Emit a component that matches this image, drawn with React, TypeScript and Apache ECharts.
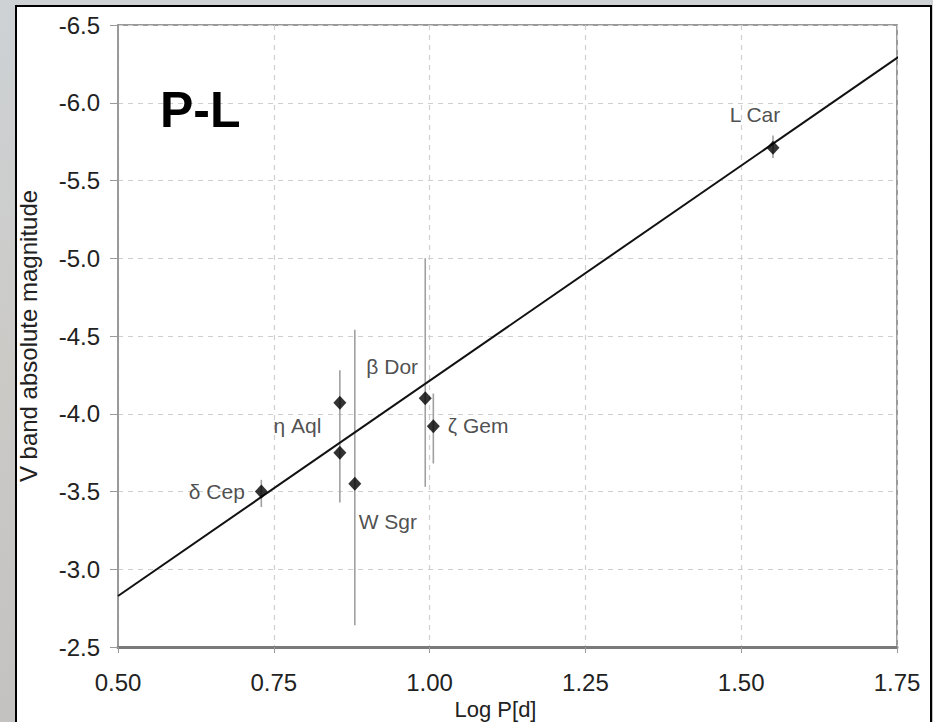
import React, { useEffect, useRef } from "react";
import * as echarts from "echarts";

const xTicks = [0.5, 0.75, 1.0, 1.25, 1.5, 1.75];
const yTicks = [-6.5, -6.0, -5.5, -5.0, -4.5, -4.0, -3.5, -3.0, -2.5];

const starNames = ["δ Cep", "η Aql", "η Aql", "W Sgr", "β Dor", "ζ Gem", "L Car"];
const logP = [0.73, 0.856, 0.856, 0.88, 0.993, 1.006, 1.551];
const magV = [-3.5, -4.07, -3.75, -3.55, -4.1, -3.92, -5.71];

const errX = [0.73, 0.856, 0.88, 0.993, 1.006, 1.551];
const errLow = [-3.4, -3.43, -2.64, -3.53, -3.68, -5.645];
const errHigh = [-3.575, -4.28, -4.54, -5.0, -4.13, -5.79];

const fitX = [0.5, 1.758];
const fitY = [-2.828, -6.31];

const FONT = "'Liberation Sans', Arial, Helvetica, sans-serif";

const labelCfg: any[] = [
  { show: true, position: "left", distance: 10, offset: [0, 0] },
  { show: false },
  { show: true, position: "left", distance: 12, offset: [0, -27] },
  { show: true, position: "bottom", distance: 5, offset: [33, 15] },
  { show: true, position: "top", distance: 5, offset: [-33, -9] },
  { show: true, position: "right", distance: 8, offset: [0, -1] },
  { show: true, position: "top", distance: 5, offset: [-18, -11] },
];

export default function App() {
  const ref = useRef<HTMLDivElement>(null);
  useEffect(() => {
    document.body.style.margin = "0";
    const chart = echarts.init(ref.current!, null, { renderer: "svg" });
    const points = logP.map((x, i) => ({
      value: [x, magV[i]],
      name: starNames[i],
      label: {
        ...labelCfg[i],
        formatter: starNames[i],
        color: "#222222",
        fontSize: 21,
        fontFamily: FONT,
      },
    }));
    const errData = errX.map((x, i) => [x, errLow[i], errHigh[i]]);
    const option: any = {
      animation: false,
      backgroundColor: {
        type: "linear",
        x: 0,
        y: 0,
        x2: 0,
        y2: 1,
        colorStops: [
          { offset: 0, color: "#ced2d5" },
          { offset: 0.5, color: "#cbcac7" },
          { offset: 1, color: "#c3c2c1" },
        ],
      },
      graphic: [
        {
          type: "rect",
          z: -10,
          shape: { x: 16, y: 6, width: 915, height: 730 },
          style: { fill: "#ffffff", stroke: "#000000", lineWidth: 2 },
        },
        {
          type: "text",
          left: 160,
          top: 85,
          z: 10,
          style: {
            text: "P-L",
            fill: "#000000",
            fontSize: 50,
            fontWeight: "bold",
            fontFamily: FONT,
          },
        },
      ],
      grid: {
        left: 118,
        top: 25,
        right: 36,
        bottom: 75,
        show: true,
        outerBoundsMode: "none",
        containLabel: false,
        borderColor: "#9a9a9a",
        borderWidth: 2,
        backgroundColor: "transparent",
      },
      xAxis: {
        type: "value",
        min: xTicks[0],
        max: xTicks[xTicks.length - 1],
        interval: 0.25,
        name: "Log P[d]",
        nameLocation: "middle",
        nameGap: 39,
        nameTextStyle: {
          fontSize: 22,
          color: "#222222",
          fontFamily: FONT,
          padding: [0, 24, 0, 0],
        },
        axisLine: { show: true, lineStyle: { color: "#7a7a7a", width: 3 } },
        axisTick: { show: true, length: 6, lineStyle: { color: "#9a9a9a" } },
        axisLabel: {
          fontSize: 24,
          color: "#222222",
          fontFamily: FONT,
          margin: 23,
          formatter: (v: number) => v.toFixed(2),
        },
        splitLine: {
          show: true,
          lineStyle: { color: "#cfcfcf", type: [5, 5], width: 1.2 },
        },
      },
      yAxis: {
        type: "value",
        inverse: true,
        min: yTicks[0],
        max: yTicks[yTicks.length - 1],
        interval: 0.5,
        name: "V band absolute magnitude",
        nameLocation: "middle",
        nameGap: 78,
        nameTextStyle: { fontSize: 24, color: "#222222", fontFamily: FONT },
        axisLine: { show: true, lineStyle: { color: "#9a9a9a", width: 2 } },
        axisTick: { show: true, length: 8, lineStyle: { color: "#9a9a9a" } },
        axisLabel: {
          fontSize: 24,
          color: "#222222",
          fontFamily: FONT,
          margin: 18,
          formatter: (v: number) => v.toFixed(1),
        },
        splitLine: {
          show: true,
          lineStyle: { color: "#cfcfcf", type: [5, 5], width: 1.2 },
        },
      },
      series: [
        {
          type: "custom",
          z: 3,
          data: errData,
          renderItem: (params: any, api: any) => {
            const p1 = api.coord([api.value(0), api.value(1)]);
            const p2 = api.coord([api.value(0), api.value(2)]);
            return {
              type: "line",
              shape: { x1: p1[0], y1: p1[1], x2: p2[0], y2: p2[1] },
              style: { stroke: "#a0a0a0", lineWidth: 1.6 },
            };
          },
        },
        {
          type: "line",
          z: 4,
          clip: false,
          symbol: "none",
          data: fitX.map((x, i) => [x, fitY[i]]),
          lineStyle: { color: "#111111", width: 2 },
        },
        {
          type: "scatter",
          z: 5,
          symbol: "diamond",
          symbolSize: [13, 14],
          itemStyle: { color: "#000000" },
          data: points,
        },
      ],
    };
    chart.setOption(option);
    return () => chart.dispose();
  }, []);
  return (
    <div
      ref={ref}
      style={{ width: 933, height: 722, position: "absolute", left: 0, top: 0 }}
    />
  );
}
